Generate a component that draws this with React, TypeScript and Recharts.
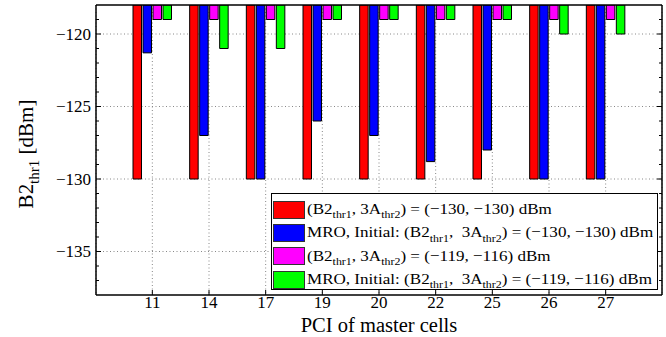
import React from 'react';
import { BarChart, Bar, XAxis, YAxis, CartesianGrid, Legend } from 'recharts';

// PCI of master cells
const pciLabels = ['11', '14', '17', '19', '20', '22', '25', '26', '27'];

// B2thr1 values per cell (dBm)
const fixedLow = [-130, -130, -130, -130, -130, -130, -130, -130, -130];
const mroLow = [-121.3, -127, -130, -126, -127, -128.8, -128, -130, -130];
const fixedHigh = [-119, -119, -119, -119, -119, -119, -119, -119, -119];
const mroHigh = [-119, -121, -121, -119, -119, -119, -119, -120, -120];

// every 1 dB gets a minor tick, every 5 dB a labelled major tick
const yTicks = [-137, -136, -135, -134, -133, -132, -131, -130, -129, -128, -127, -126, -125, -124, -123, -122, -121, -120, -119];
const gridValues = [-135, -130, -125, -120];

const seriesKeys = ['fixedLow', 'mroLow', 'fixedHigh', 'mroHigh'];
const seriesColors = ['#ff0000', '#0000ff', '#ff00ff', '#00ff00'];
const legendLabels = [
  '(B2_{thr1}, 3A_{thr2}) = (\u2212130, \u2212130) dBm',
  'MRO, Initial: (B2_{thr1},  3A_{thr2}) = (\u2212130, \u2212130) dBm',
  '(B2_{thr1}, 3A_{thr2}) = (\u2212119, \u2212116) dBm',
  'MRO, Initial: (B2_{thr1},  3A_{thr2}) = (\u2212119, \u2212116) dBm',
];

const data = pciLabels.map((pci, i) => ({
  pci,
  fixedLow: fixedLow[i],
  mroLow: mroLow[i],
  fixedHigh: fixedHigh[i],
  mroHigh: mroHigh[i],
}));

const FONT = '"Liberation Serif", "Times New Roman", serif';

// turn "B2_{thr1}" into text + subscript spans
const renderSubs = (s: string) => {
  const parts = s.split(/(_\{[^}]*\})/);
  return parts.map((p, i) =>
    p.startsWith('_{') ? (
      <span key={i} style={{ fontSize: '0.7em', position: 'relative', top: '0.4em' }}>
        {p.slice(2, -1)}
      </span>
    ) : (
      <span key={i} style={{ whiteSpace: 'pre' }}>{p}</span>
    )
  );
};

const LegendBox = () => (
  <div
    style={{
      border: '1.5px solid #000',
      background: '#fff',
      width: 387,
      height: 97,
      boxSizing: 'border-box',
      padding: '4px 0 0 1px',
      fontFamily: FONT,
      fontSize: 15.5,
      color: '#000',
    }}
  >
    {legendLabels.map((label, i) => (
      <div key={i} style={{ display: 'flex', alignItems: 'center', height: 23.3, lineHeight: '15px' }}>
        <div
          style={{
            width: 32,
            height: 18,
            background: seriesColors[i],
            border: '1px solid #333',
            boxSizing: 'border-box',
            marginRight: 2,
            flex: 'none',
          }}
        />
        <div style={{ whiteSpace: 'nowrap', transform: 'scaleX(1.1)', transformOrigin: 'left center' }}>
          {renderSubs(label)}
        </div>
      </div>
    ))}
  </div>
);

const LeftTick = (props: any) => {
  const { x, y, payload } = props;
  const v = payload.value as number;
  const major = v % 5 === 0;
  return (
    <g>
      <line x1={x} x2={x + (major ? 5 : 3)} y1={y} y2={y} stroke="#000" />
      {major && (
        <text x={x - 5} y={y} dy="0.35em" textAnchor="end" fontFamily={FONT} fontSize={17} fill="#000">
          {String(v).replace('-', '\u2212')}
        </text>
      )}
    </g>
  );
};

const RightTick = (props: any) => {
  const { x, y, payload } = props;
  const major = (payload.value as number) % 5 === 0;
  return <line x1={x} x2={x - (major ? 5 : 3)} y1={y} y2={y} stroke="#000" />;
};

const YLabel = () => (
  <text
    x={33}
    y={154}
    transform="rotate(-90 33 154)"
    textAnchor="middle"
    fontFamily={FONT}
    fontSize={21}
    fill="#000"
  >
    <tspan>B2</tspan>
    <tspan fontSize={15} dy={6}>thr1</tspan>
    <tspan dy={-6}> [dBm]</tspan>
  </text>
);

const XLabel = () => (
  <text x={379} y={332} textAnchor="middle" fontFamily={FONT} fontSize={20.5} fill="#000">
    PCI of master cells
  </text>
);

export default function App() {
  return (
    <div style={{ position: 'absolute', left: 0, top: 0, background: '#fff' }}>
      <BarChart
        width={666}
        height={337}
        data={data}
        margin={{ top: 4, right: 3, bottom: 0, left: 0 }}
        barSize={8.5}
        barGap={1.5}
        style={{ fontFamily: FONT }}
      >
        <CartesianGrid stroke="#888" strokeDasharray="1 2.5" horizontalValues={gridValues} />
        <XAxis
          dataKey="pci"
          height={42}
          padding={{ left: 28, right: 28 }}
          tickSize={-5}
          tickMargin={6}
          axisLine={{ stroke: '#000', strokeWidth: 1.5 }}
          tickLine={{ stroke: '#000' }}
          tick={{ fill: '#000', fontSize: 17, fontFamily: FONT }}
          label={{ content: () => <XLabel /> }}
        />
        <XAxis
          xAxisId="top"
          dataKey="pci"
          orientation="top"
          height={1}
          padding={{ left: 28, right: 28 }}
          tickSize={-5}
          tick={false}
          axisLine={{ stroke: '#000', strokeWidth: 1.5 }}
          tickLine={{ stroke: '#000' }}
        />
        <YAxis
          width={96}
          type="number"
          domain={[-138, -118]}
          ticks={yTicks}
          interval={0}
          allowDataOverflow
          tickSize={0}
          tickMargin={0}
          axisLine={{ stroke: '#000', strokeWidth: 1.5 }}
          tickLine={false}
          tick={<LeftTick />}
          label={{ content: () => <YLabel /> }}
        />
        <YAxis
          yAxisId="right"
          orientation="right"
          width={1}
          type="number"
          domain={[-138, -118]}
          ticks={yTicks}
          interval={0}
          allowDataOverflow
          tickSize={0}
          tickMargin={0}
          axisLine={{ stroke: '#000', strokeWidth: 1.5 }}
          tickLine={false}
          tick={<RightTick />}
        />
        {seriesKeys.map((k, i) => (
          <Bar key={k} dataKey={k} fill={seriesColors[i]} stroke="#000" strokeWidth={1} isAnimationActive={false} />
        ))}
        <Legend
          layout="vertical"
          align="center"
          verticalAlign="middle"
          content={() => <LegendBox />}
          wrapperStyle={{ left: 271, top: 193, width: 387, height: 97 }}
        />
      </BarChart>
    </div>
  );
}
